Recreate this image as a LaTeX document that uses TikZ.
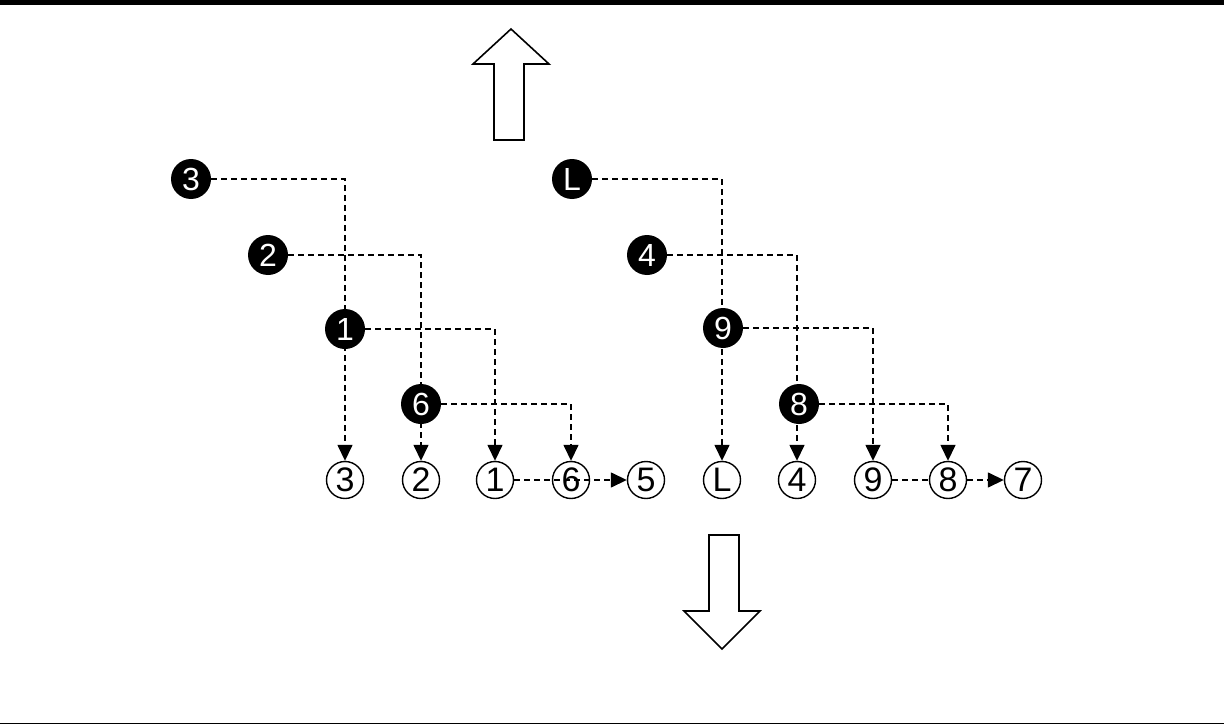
\documentclass[tikz,border=0pt]{standalone}
\usepackage{fontspec}
\setmainfont{Liberation Sans}
\usetikzlibrary{arrows.meta,backgrounds}
\tikzset{blk/.style={circle,fill=black,text=white,minimum size=40pt,inner sep=0pt,font=\fontsize{32}{32}\selectfont},
         wht/.style={circle,draw,line width=1.4pt,minimum size=37pt,inner sep=0pt,font=\fontsize{34}{34}\selectfont},
         link/.style={line width=1.5pt,dash pattern=on 6pt off 4pt},
         tip/.style={-{Triangle[length=16pt,width=15pt]}},
         bigarrow/.style={line width=1.6pt,line join=miter,fill=white}}

\begin{document}
\begin{tikzpicture}[x=1pt,y=-1pt]
  \useasboundingbox (0,0) rectangle (1224,725);
  \fill (0,0) rectangle (1224,5);
  \draw[line width=1pt] (345,0) -- (345,2);
  \draw[line width=1.2pt] (1224,723.5) -- (0,723.5);
  \draw[bigarrow] (494,140) -- (494,64) -- (473,64) -- (511,29) -- (549,64) -- (524,64) -- (524,140) -- cycle;
  \draw[bigarrow] (709,535) -- (739,535) -- (739,611) -- (760,611) -- (722,649) -- (684,611) -- (709,611) -- cycle;
  \node[blk] (b3) at (191,179) {3};
  \node[blk] (b2) at (268,255) {2};
  \node[blk] (b1) at (345,329) {1};
  \node[blk] (b6) at (421,404) {6};
  \node[blk] (bL) at (572,179) {L};
  \node[blk] (b4) at (647,255) {4};
  \node[blk] (b9) at (723,328) {9};
  \node[blk] (b8) at (799,404) {8};
  \node[wht] (w3) at (345,480) {3};
  \node[wht] (w2) at (421,480) {2};
  \node[wht] (w1) at (495,480) {1};
  \node[wht] (w6) at (571,480) {6};
  \node[wht] (w5) at (646,480) {5};
  \node[wht] (wL) at (722,480) {L};
  \node[wht] (w4) at (797,480) {4};
  \node[wht] (w9) at (873,480) {9};
  \node[wht] (w8) at (948,480) {8};
  \node[wht] (w7) at (1023,480) {7};
  \begin{pgfonlayer}{background}
    \draw[link,tip] (b3) -| (w3);
    \draw[link,tip] (b2) -| (w2);
    \draw[link,tip] (b1) -| (w1);
    \draw[link,tip] (b6) -| (w6);
    \draw[link,tip] (w1) -- (w5);
    \draw[link,tip] (bL) -| (wL);
    \draw[link,tip] (b4) -| (w4);
    \draw[link,tip] (b9) -| (w9);
    \draw[link,tip] (b8) -| (w8);
    \draw[link] (w9) -- (w8);
    \draw[link,tip] (w8) -- (w7);
  \end{pgfonlayer}
\end{tikzpicture}
\end{document}
